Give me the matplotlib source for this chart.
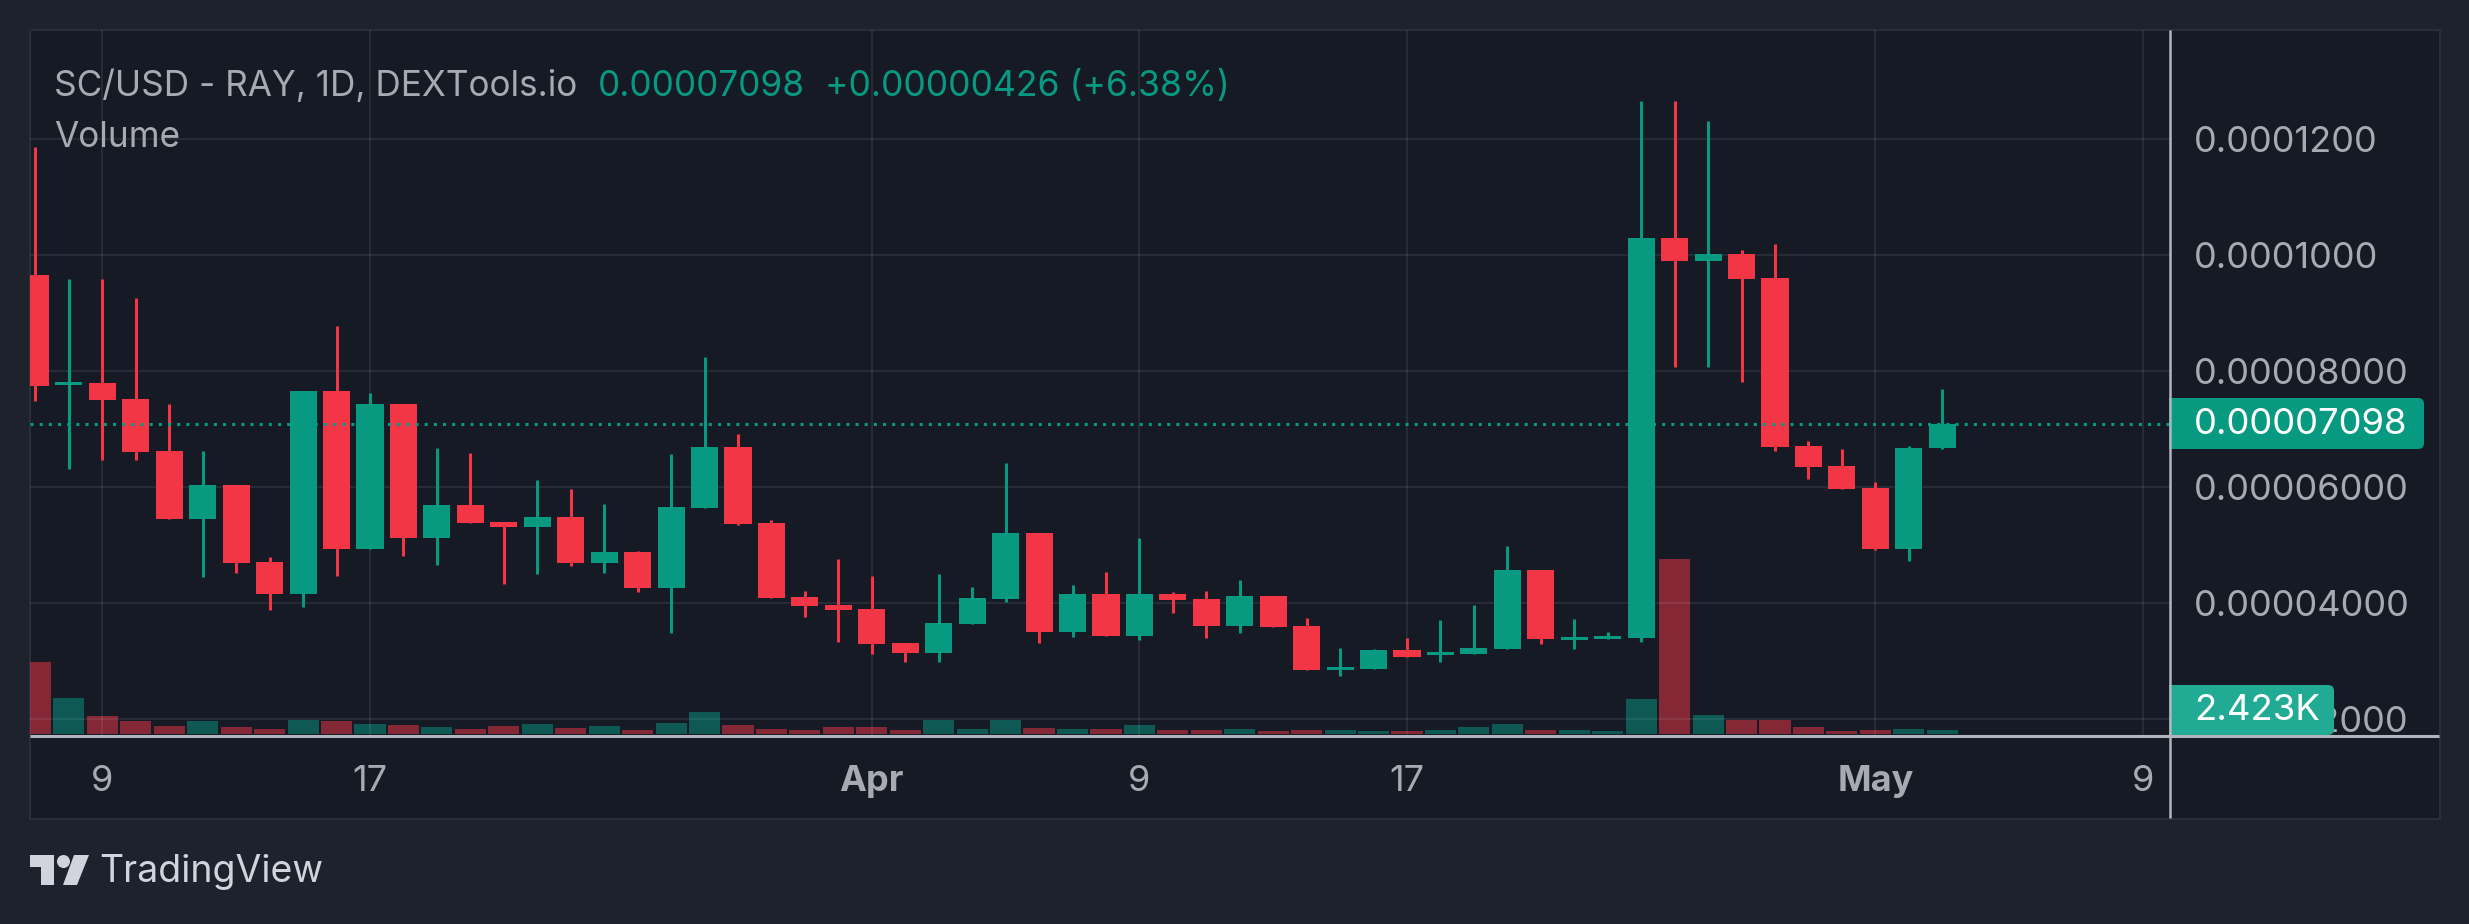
import numpy as np
import matplotlib
matplotlib.use("Agg")
import matplotlib.pyplot as plt
from matplotlib.patches import Rectangle, FancyBboxPatch, Polygon, Circle

plt.rcParams['font.family'] = ['Inter', 'DejaVu Sans']

# precios en unidades de 1e-5
open_ = [9.66, 7.76, 7.80, 7.52, 6.63, 5.45, 6.04, 4.71, 4.16, 7.66,
         4.94, 7.44, 5.13, 5.70, 5.40, 5.32, 5.49, 4.70, 4.89, 4.26,
         5.64, 6.70, 5.39, 4.11, 3.97, 3.90, 3.32, 3.14, 3.64, 4.07,
         5.21, 3.51, 4.16, 3.44, 4.16, 4.07, 3.61, 4.13, 3.61, 2.85,
         2.87, 3.20, 3.11, 3.13, 3.21, 4.57, 3.37, 3.38, 3.40, 10.30,
         9.90, 10.02, 9.61, 6.71, 6.37, 5.99, 4.94, 6.672]
high = [11.87, 9.59, 9.59, 9.26, 7.44, 6.63, 6.04, 4.80, 7.66, 8.78,
        7.63, 7.44, 6.68, 6.59, 5.40, 6.13, 5.97, 5.71, 4.90, 6.57,
        8.25, 6.92, 5.44, 4.21, 4.76, 4.47, 3.32, 4.51, 4.28, 6.42,
        5.21, 4.32, 4.54, 5.13, 4.20, 4.21, 4.40, 4.13, 3.75, 3.23,
        3.21, 3.40, 3.71, 3.97, 4.99, 4.57, 3.73, 3.51, 12.66, 12.66,
        12.32, 10.09, 10.20, 6.80, 6.66, 6.09, 6.71, 7.70]
low = [7.49, 6.32, 6.47, 6.47, 5.45, 4.45, 4.52, 3.88, 3.94, 4.47,
       4.94, 4.82, 4.66, 5.39, 4.33, 4.51, 4.64, 4.52, 4.20, 3.49,
       5.64, 5.35, 4.09, 3.76, 3.33, 3.13, 2.99, 2.99, 3.64, 4.02,
       3.32, 3.42, 3.44, 3.37, 3.83, 3.40, 3.49, 3.59, 2.85, 2.75,
       2.87, 3.07, 2.99, 3.13, 3.21, 3.30, 3.21, 3.38, 3.33, 8.07,
       8.07, 7.82, 6.63, 6.14, 5.97, 4.92, 4.73, 6.66]
close = [7.75, 7.82, 7.51, 6.61, 5.45, 6.04, 4.70, 4.16, 7.66, 4.94,
         7.44, 5.13, 5.70, 5.39, 5.32, 5.49, 4.70, 4.89, 4.26, 5.66,
         6.70, 5.37, 4.09, 3.95, 3.88, 3.30, 3.14, 3.66, 4.09, 5.21,
         3.51, 4.16, 3.44, 4.16, 4.06, 3.61, 4.13, 3.59, 2.85, 2.90,
         3.20, 3.07, 3.16, 3.23, 4.57, 3.38, 3.42, 3.44, 10.30, 9.90,
         10.02, 9.59, 6.70, 6.35, 5.97, 4.94, 6.68, 7.098]

# volumen en miles
volume = [43.6, 21.8, 10.9, 7.9, 4.8, 7.9, 4.2, 3.0, 8.5, 7.9,
          6.1, 5.5, 4.2, 3.0, 4.8, 6.1, 3.6, 4.8, 2.4, 6.7,
          13.3, 5.5, 3.0, 2.4, 4.2, 4.2, 2.4, 8.5, 3.0, 8.5,
          3.6, 3.0, 3.0, 5.5, 2.4, 2.4, 3.0, 1.8, 2.4, 2.4,
          1.8, 1.8, 2.4, 4.2, 6.1, 2.4, 2.4, 1.8, 21.2, 106.0,
          11.5, 8.5, 8.5, 4.2, 1.8, 2.4, 3.0, 2.423]

price_ticks = [2, 4, 6, 8, 10, 12]
price_labels = ['0.00002000', '0.00004000', '0.00006000', '0.00008000', '0.0001000', '0.0001200']
date_ticks = [2, 10, 25, 33, 41, 55, 63]
date_labels = ['9', '17', 'Apr', '9', '17', 'May', '9']
last_price = 7.098
last_volume = 2.423

open_ = np.array(open_)
high = np.array(high)
low = np.array(low)
close = np.array(close)
volume = np.array(volume)
idx = np.arange(len(open_))

GREEN = '#089981'
RED = '#F23645'
PAGE = '#1E222D'
PANEL = '#161A25'
TEXT = '#A8AAB1'
LINE = '#B2B5BE'
BORDER = '#2A2E39'

W, H = 2469, 924
fig = plt.figure(figsize=(W/100, H/100), dpi=100, facecolor=PAGE)

# fondo en pixeles
bg = fig.add_axes([0, 0, 1, 1], zorder=0)
bg.set_xlim(0, W)
bg.set_ylim(H, 0)
bg.axis('off')
bg.add_patch(Rectangle((30, 30), 2410, 789, fc=PANEL, ec=BORDER, lw=1.5))

# escalas: x 33.45 px por vela, y 58 px por unidad de precio
pos = [30/W, (H-736)/H, 2140.4/W, 706/H]
x0 = -0.164
x1 = 63.82

ax_vol = fig.add_axes(pos, zorder=1)
ax_vol.patch.set_alpha(0)
ax_vol.bar(idx, volume, width=0.93, linewidth=0,
           color=[GREEN if c >= o else RED for o, c in zip(open_, close)], alpha=0.5)
ax_vol.set_xlim(x0, x1)
ax_vol.set_ylim(-1.2, 426)
ax_vol.axis('off')

ax = fig.add_axes(pos, zorder=2)
ax.patch.set_alpha(0)
colors = [GREEN if c >= o else RED for o, c in zip(open_, close)]
ax.vlines(idx, low*1e-5, high*1e-5, colors=colors, linewidth=2.2, zorder=2)
ax.bar(idx, (close-open_)*1e-5, bottom=open_*1e-5, width=0.81, color=colors, linewidth=0, zorder=3)
ax.axhline(last_price*1e-5, color=GREEN, lw=2.2, linestyle=(0, (1, 2)), zorder=4)
ax.set_xlim(x0, x1)
ax.set_ylim(1.712e-5, 13.885e-5)

ax.set_axisbelow(True)
ax.grid(True, color='white', alpha=0.075, lw=1.5)
ax.set_xticks(date_ticks)
ax.set_xticklabels(date_labels, fontsize=26, color=TEXT)
for lab in ax.get_xticklabels():
    if lab.get_text() in ('Apr', 'May'):
        lab.set_fontweight('bold')
ax.yaxis.tick_right()
ax.set_yticks(np.array(price_ticks)*1e-5)
ax.set_yticklabels(price_labels, fontsize=26, color=TEXT)
ax.tick_params(axis='both', length=0)
ax.tick_params(axis='x', pad=21)
ax.tick_params(axis='y', pad=17)
for s in ax.spines.values():
    s.set_visible(False)

# capa superior: ejes, etiquetas y logo
top = fig.add_axes([0, 0, 1, 1], zorder=3)
top.set_xlim(0, W)
top.set_ylim(H, 0)
top.axis('off')
top.plot([30, 2439], [736, 736], color=LINE, lw=2.2, solid_capstyle='butt')
top.plot([2170.4, 2170.4], [30, 818], color=LINE, lw=1.8, solid_capstyle='butt')


def badge(y0, y1, x_end, color, txt):
    top.add_patch(FancyBboxPatch((2185, y0+6), x_end-2185-6, y1-y0-12,
                                 boxstyle='round,pad=6', fc=color, ec='none'))
    top.add_patch(Rectangle((2169, y0), 30, y1-y0, fc=color, ec='none'))
    top.text(2194, (y0+y1)/2+1, txt, color='white', fontsize=26.3, va='center', ha='left')


badge(398, 449, 2424, GREEN, f'0.0000{last_price*1000:.0f}')
badge(685, 735, 2334, '#22AB94', f'{last_volume:.3f}K')

top.text(54, 96, 'SC/USD - RAY, 1D, DEXTools.io', color=TEXT, fontsize=25.3, va='baseline')
top.text(598, 96, '0.00007098', color=GREEN, fontsize=25.3, va='baseline')
top.text(825, 96, '+0.00000426 (+6.38%)', color=GREEN, fontsize=25.6, va='baseline')
top.text(54, 147, 'Volume', color=TEXT, fontsize=25.3, va='baseline')

LOGO = '#D1D4DC'
top.add_patch(Polygon([(30, 855), (54, 855), (54, 885), (41, 885), (41, 867), (30, 867)], fc=LOGO, ec='none'))
top.add_patch(Circle((63.5, 861.5), 6.5, fc=LOGO, ec='none'))
top.add_patch(Polygon([(74, 855), (89, 855), (77, 885), (63, 885)], fc=LOGO, ec='none'))
top.text(99, 882, 'TradingView', color=LOGO, fontsize=27, va='baseline')

fig.savefig('out.png', dpi=100, facecolor=PAGE)
